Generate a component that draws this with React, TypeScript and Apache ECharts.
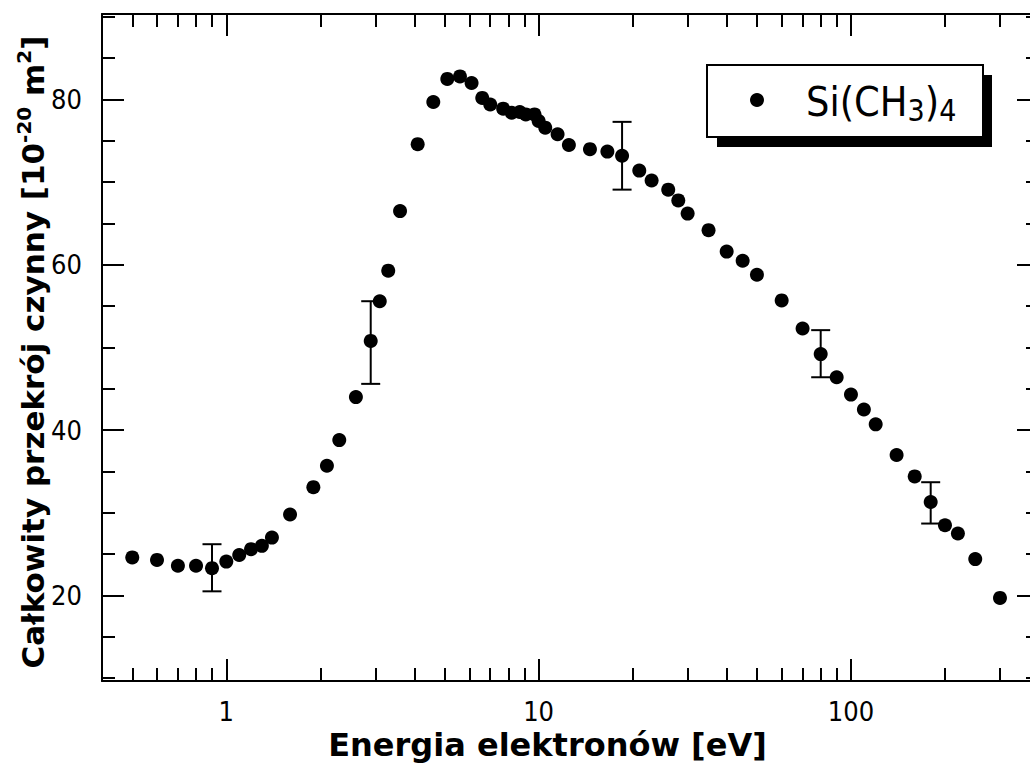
import React, { useEffect, useRef } from 'react';
import * as echarts from 'echarts';

// Electron energy [eV] and total cross section [1e-20 m^2]
const energy = [
  0.5, 0.6, 0.7, 0.8, 0.9, 1.0, 1.1, 1.2, 1.3, 1.4,
  1.6, 1.9, 2.1, 2.3, 2.6, 2.9, 3.1, 3.3, 3.6, 4.1,
  4.6, 5.1, 5.6, 6.1, 6.6, 7.0, 7.7, 8.2, 8.7, 9.1,
  9.7, 10.0, 10.5, 11.5, 12.5, 14.6, 16.6, 18.5, 21, 23,
  26, 28, 30, 35, 40, 45, 50, 60, 70, 80,
  90, 100, 110, 120, 140, 160, 180, 200, 220, 250,
  300,
];
const crossSection = [
  24.6, 24.3, 23.6, 23.6, 23.3, 24.1, 24.9, 25.6, 26.0, 27.0,
  29.8, 33.1, 35.7, 38.8, 44.0, 50.8, 55.6, 59.3, 66.5, 74.6,
  79.7, 82.5, 82.8, 82.0, 80.2, 79.4, 78.9, 78.4, 78.5, 78.2,
  78.2, 77.4, 76.6, 75.8, 74.5, 74.0, 73.7, 73.2, 71.4, 70.2,
  69.1, 67.8, 66.2, 64.2, 61.6, 60.5, 58.8, 55.7, 52.3, 49.2,
  46.4, 44.3, 42.5, 40.7, 37.0, 34.4, 31.3, 28.5, 27.5, 24.4,
  19.7,
];

// Error bars
const errEnergy = [0.9, 2.9, 18.5, 80, 180];
const errLow = [20.5, 45.6, 69.1, 46.4, 28.7];
const errHigh = [26.2, 55.6, 77.3, 52.1, 33.7];

// Axis ticks
const xMajorTicks = [1, 10, 100];
const xMinorTicks = [0.5, 0.6, 0.7, 0.8, 0.9, 2, 3, 4, 5, 6, 7, 8, 9, 20, 30, 40, 50, 60, 70, 80, 90, 200, 300];
const yMajorTicks = [20, 40, 60, 80];
const yMinorTicks = [10, 15, 25, 30, 35, 45, 50, 55, 65, 70, 75, 85, 90];

const X_MIN = 0.4;
const X_MAX = 400;
const Y_MIN = 9.65;
const Y_MAX = 90.35;

const SERIES_NAME = 'Si(CH3)4';
const X_TITLE = 'Energia elektronów [eV]';

const FONT = "'DejaVu Sans Condensed', 'DejaVu Sans', sans-serif";
const BOLD_FONT = "'DejaVu Sans', sans-serif";

export default function App() {
  const ref = useRef<HTMLDivElement>(null);

  useEffect(() => {
    if (!ref.current) return;
    const chart = echarts.init(ref.current, undefined, { renderer: 'svg' });

    const lineStyle = { color: '#000', width: 2 };
    const isMajor = (v: number) => xMajorTicks.some((m) => Math.abs(v - m) / m < 1e-6);

    const logMin = Math.log10(X_MIN);
    const logMax = Math.log10(X_MAX);
    const minorLog = xMinorTicks.map((v) => Math.log10(v));

    const option: any = {
      animation: false,
      backgroundColor: '#fff',
      grid: {
        left: 102,
        top: 14,
        right: -9,
        bottom: 85,
        containLabel: false,
        outerBoundsMode: 'none',
      },
      xAxis: [
        {
          type: 'log',
          logBase: 10,
          min: X_MIN,
          max: X_MAX,
          position: 'bottom',
          axisLine: { show: true, onZero: false, lineStyle },
          axisTick: { show: true, inside: true, length: 22, lineStyle },
          minorTick: { show: false },
          splitLine: { show: false },
          axisLabel: {
            show: true,
            margin: 17,
            fontSize: 27,
            fontFamily: FONT,
            color: '#000',
            showMinLabel: false,
            showMaxLabel: false,
            formatter: (v: number) => (isMajor(v) ? String(Math.round(v)) : ''),
          },
          name: X_TITLE,
          nameLocation: 'middle',
          nameGap: 47,
          nameMoveOverlap: false,
          nameTextStyle: {
            fontSize: 32,
            fontWeight: 'bold',
            fontFamily: BOLD_FONT,
            color: '#000',
            lineHeight: 34,
            padding: [0, 46, 0, 0],
          },
        },
        {
          type: 'log',
          logBase: 10,
          min: X_MIN,
          max: X_MAX,
          position: 'top',
          axisLine: { show: true, onZero: false, lineStyle },
          axisTick: { show: true, inside: true, length: 22, lineStyle },
          splitLine: { show: false },
          axisLabel: { show: false },
        },
        {
          type: 'value',
          min: logMin,
          max: logMax,
          position: 'bottom',
          axisLine: { show: false, onZero: false },
          axisTick: { show: true, inside: true, length: 13, lineStyle, customValues: minorLog },
          splitLine: { show: false },
          axisLabel: { show: false },
        },
        {
          type: 'value',
          min: logMin,
          max: logMax,
          position: 'top',
          axisLine: { show: false, onZero: false },
          axisTick: { show: true, inside: true, length: 13, lineStyle, customValues: minorLog },
          splitLine: { show: false },
          axisLabel: { show: false },
        },
      ],
      yAxis: [
        {
          type: 'value',
          min: Y_MIN,
          max: Y_MAX,
          position: 'left',
          axisLine: { show: true, onZero: false, lineStyle },
          axisTick: { show: true, inside: true, length: 22, lineStyle, customValues: yMajorTicks },
          splitLine: { show: false },
          axisLabel: {
            show: true,
            customValues: yMajorTicks,
            margin: 20,
            fontSize: 27,
            fontFamily: FONT,
            color: '#000',
          },
          name: 'Całkowity przekrój czynny [10{sup|-20} m{sup|2}]',
          nameLocation: 'middle',
          nameGap: 50,
          nameMoveOverlap: false,
          nameTextStyle: {
            fontSize: 31,
            fontWeight: 'bold',
            fontFamily: BOLD_FONT,
            color: '#000',
            lineHeight: 38,
            padding: [0, 9, 0, 0],
            rich: {
              sup: {
                fontSize: 20,
                fontWeight: 'bold',
                fontFamily: BOLD_FONT,
                color: '#000',
                lineHeight: 20,
                verticalAlign: 'top',
              },
            },
          },
        },
        {
          type: 'value',
          min: Y_MIN,
          max: Y_MAX,
          position: 'right',
          axisLine: { show: true, onZero: false, lineStyle },
          axisTick: { show: true, inside: true, length: 22, lineStyle, customValues: yMajorTicks },
          splitLine: { show: false },
          axisLabel: { show: false },
        },
        {
          type: 'value',
          min: Y_MIN,
          max: Y_MAX,
          position: 'left',
          axisLine: { show: false, onZero: false },
          axisTick: { show: true, inside: true, length: 13, lineStyle, customValues: yMinorTicks },
          splitLine: { show: false },
          axisLabel: { show: false },
        },
        {
          type: 'value',
          min: Y_MIN,
          max: Y_MAX,
          position: 'right',
          axisLine: { show: false, onZero: false },
          axisTick: { show: true, inside: true, length: 13, lineStyle, customValues: yMinorTicks },
          splitLine: { show: false },
          axisLabel: { show: false },
        },
      ],
      series: [
        {
          type: 'custom',
          name: 'error',
          xAxisIndex: 0,
          yAxisIndex: 0,
          z: 1,
          data: errEnergy.map((e, i) => [e, errLow[i], errHigh[i]]),
          encode: { x: 0, y: [1, 2] },
          renderItem: (_params: any, api: any) => {
            const x = api.value(0);
            const lo = api.coord([x, api.value(1)]);
            const hi = api.coord([x, api.value(2)]);
            const w = 9.5;
            const style = { stroke: '#000', lineWidth: 2, fill: 'none' };
            return {
              type: 'group',
              children: [
                { type: 'line', shape: { x1: lo[0], y1: lo[1], x2: hi[0], y2: hi[1] }, style },
                { type: 'line', shape: { x1: hi[0] - w, y1: hi[1], x2: hi[0] + w, y2: hi[1] }, style },
                { type: 'line', shape: { x1: lo[0] - w, y1: lo[1], x2: lo[0] + w, y2: lo[1] }, style },
              ],
            };
          },
        },
        {
          type: 'scatter',
          name: SERIES_NAME,
          xAxisIndex: 0,
          yAxisIndex: 0,
          z: 3,
          symbol: 'circle',
          symbolSize: 14,
          itemStyle: { color: '#000', opacity: 1 },
          data: energy.map((e, i) => [e, crossSection[i]]),
        },
      ],
      graphic: [
        {
          type: 'rect',
          z: 100,
          shape: { x: 717, y: 75, width: 275, height: 72 },
          style: { fill: '#000' },
        },
        {
          type: 'rect',
          z: 101,
          shape: { x: 707, y: 65, width: 276, height: 72 },
          style: { fill: '#fff', stroke: '#000', lineWidth: 2 },
        },
        {
          type: 'circle',
          z: 102,
          shape: { cx: 757, cy: 100, r: 7 },
          style: { fill: '#000' },
        },
        {
          type: 'text',
          z: 102,
          x: 806,
          y: 102,
          style: {
            text: '{a|Si(CH}{b|3}{a|)}{b|4}',
            align: 'left',
            verticalAlign: 'middle',
            fill: '#000',
            rich: {
              a: { fontSize: 41, fontFamily: FONT, lineHeight: 46, fill: '#000' },
              b: { fontSize: 30, fontFamily: FONT, lineHeight: 30, verticalAlign: 'bottom', fill: '#000' },
            },
          },
        },
      ],
    };

    chart.setOption(option);
    return () => chart.dispose();
  }, []);

  return (
    <div
      ref={ref}
      style={{ position: 'absolute', left: 0, top: 0, width: 1030, height: 766 }}
    />
  );
}
